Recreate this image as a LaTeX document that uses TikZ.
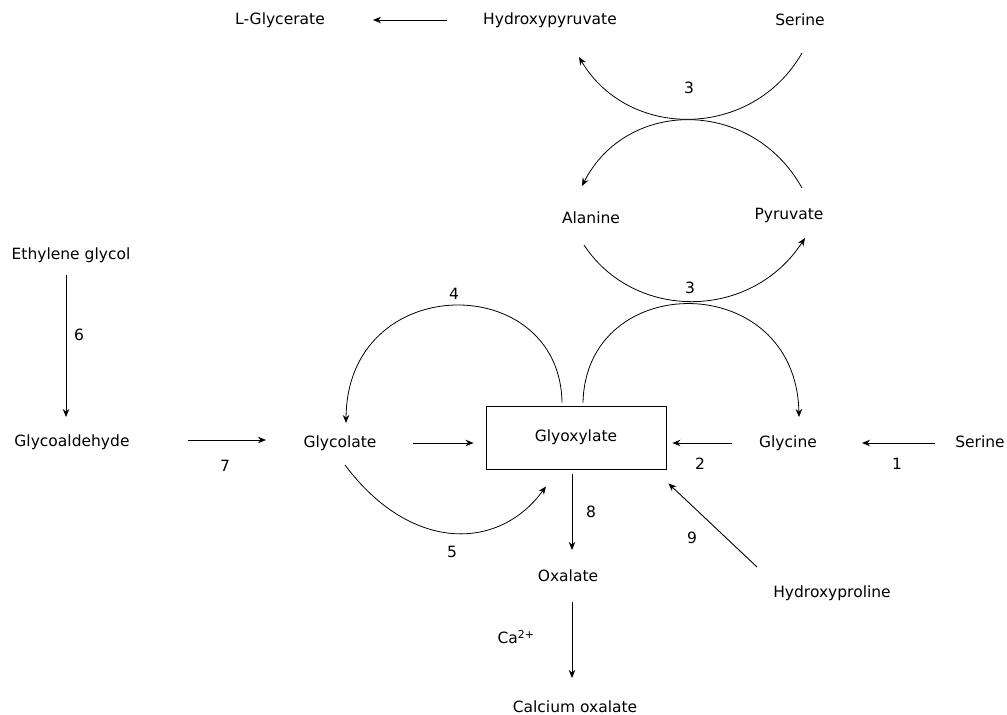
\documentclass[tikz,border=0pt]{standalone}
\usepackage{fontspec}
\setmainfont{DejaVu Sans}
\usetikzlibrary{arrows.meta}
\begin{document}
\begin{tikzpicture}[x=1pt,y=-1pt,
  every node/.style={font=\fontsize{15.5}{18}\selectfont, inner sep=0pt},
  lbl/.style={},
  arr/.style={line width=0.9pt, -{Stealth[length=8pt,width=6.5pt]}},
  crv/.style={line width=0.8pt, -{Stealth[length=8pt,width=6.5pt]}},
  boxst/.style={draw, line width=0.9pt, minimum width=180pt, minimum height=63pt}]
\fill[white] (0,0) rectangle (1007,715);
\useasboundingbox (0,0) rectangle (1007,715);
% nodes
\node (lgly) at (280,20) {L-Glycerate};
\node (hpyr) at (550,20) {Hydroxypyruvate};
\node (ser1) at (800,20) {Serine};
\node (ala) at (591,218) {Alanine};
\node (pyr) at (789,215) {Pyruvate};
\node (eg) at (71,255) {Ethylene glycol};
\node (gald) at (72,442) {Glycoaldehyde};
\node (glyc) at (340,443) {Glycolate};
\node[boxst] (box) at (576,437.5) {Glyoxylate};
\node (glyn) at (788,443) {Glycine};
\node (ser2) at (980,442) {Serine};
\node (oxa) at (568,576) {Oxalate};
\node (caox) at (575,707) {Calcium oxalate};
\node (hpro) at (832,593) {Hydroxyproline};
\node (ca) at (516,637) {Ca\textsuperscript{2+}};
% numbers
\node (n3a) at (689,88) {3};
\node (n3b) at (690,288) {3};
\node (n4) at (454,294) {4};
\node (n5) at (452,552) {5};
\node (n6) at (79,335) {6};
\node (n7) at (225,466) {7};
\node (n2) at (700,464) {2};
\node (n1) at (897,464) {1};
\node (n8) at (591,512) {8};
\node (n9) at (692,538) {9};
% straight arrows
\draw[arr] ([shift={(-103,0)}]hpyr.center) -- ([shift={(93,0)}]lgly.center);
\draw[arr] ([shift={(-5,20)}]eg.center) -- ([shift={(-6,-25)}]gald.center);
\draw[arr] ([shift={(116,-2)}]gald.center) -- ([shift={(-74,-3)}]glyc.center);
\draw[arr] ([shift={(73,0)}]glyc.center) -- ([shift={(-12,5.5)}]box.west);
\draw[arr] ([shift={(-56,0)}]glyn.center) -- ([shift={(6,5.5)}]box.east);
\draw[arr] ([shift={(-45,1)}]ser2.center) -- ([shift={(74,0)}]glyn.center);
\draw[arr] ([shift={(-4,5)}]box.south) -- ([shift={(4,-26)}]oxa.center);
\draw[arr] ([shift={(4,26)}]oxa.center) -- ([shift={(-3,-29)}]caox.center);
\draw[arr] ([shift={(-75,-26)}]hpro.center) -- ([shift={(2,14)}]box.south east);
% curved arrows
\draw[crv] ([shift={(-14,-3)}]box.north) .. controls (560,270) and (347,270) .. ([shift={(6,-20)}]glyc.center);
\draw[crv] ([shift={(7,-3)}]box.north) .. controls (586,269) and (796,269) .. ([shift={(11,-26)}]glyn.center);
\draw[crv] ([shift={(-7,27)}]ala.center) .. controls (634,321) and (751,321) .. ([shift={(16,23)}]pyr.center);
\draw[crv] ([shift={(2,33)}]ser1.center) .. controls (752,140) and (628,140) .. ([shift={(29,37)}]hpyr.center);
\draw[crv] ([shift={(13,-27)}]pyr.center) .. controls (752,98) and (627,98) .. ([shift={(-9,-32)}]ala.center);
\draw[crv] ([shift={(5,22)}]glyc.center) .. controls (410,552) and (498,552) .. ([shift={(-30,17)}]box.south);
\end{tikzpicture}
\end{document}
